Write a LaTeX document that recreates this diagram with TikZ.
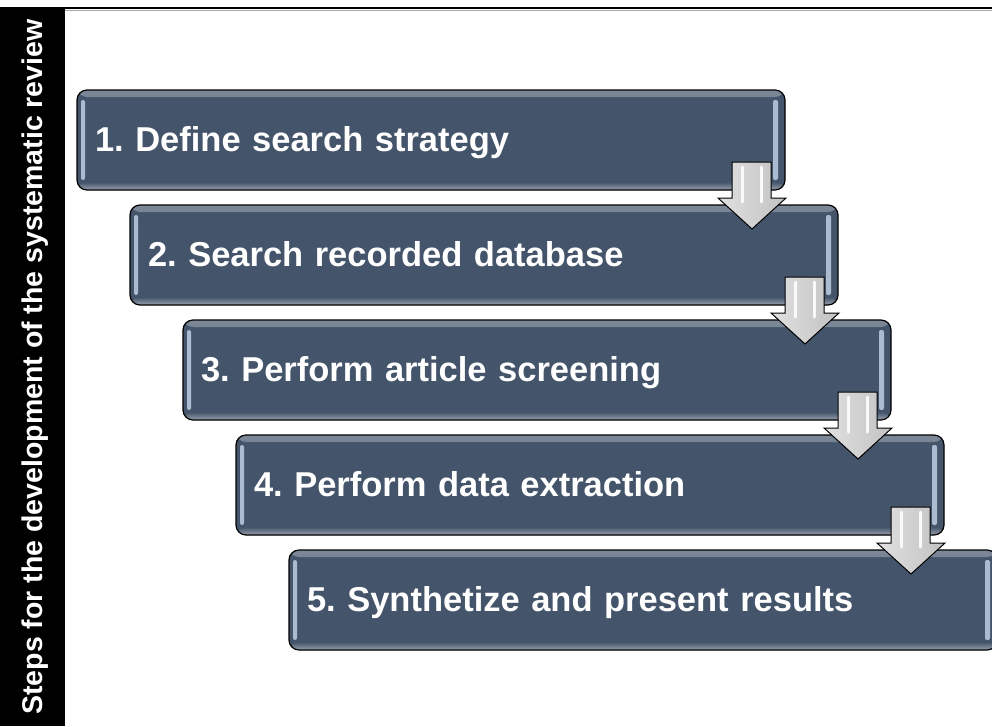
\documentclass[tikz,border=0pt]{standalone}
\usepackage{fontspec}
\setmainfont{Liberation Sans}
\usepackage{tikz}
\usetikzlibrary{positioning,calc}
\definecolor{slate}{RGB}{68,84,106}
\definecolor{glint}{RGB}{172,188,208}
\frenchspacing

\begin{document}
\begin{tikzpicture}[x=1pt, y=-1pt,
  stepbox/.style={draw=black, line width=1.2pt, fill=slate, rounded corners=10pt,
    minimum height=100pt, text width=672pt, inner xsep=18pt, inner ysep=0pt, outer sep=0pt,
    text height=26pt, text depth=4pt, align=left, text=white,
    font=\fontsize{34.5}{40}\selectfont\bfseries,
    path picture={
      \shade[top color=slate!70!white, bottom color=slate] ([shift={(0,0)}]path picture bounding box.north west) rectangle ([shift={(0,7)}]path picture bounding box.north east);
      \shade[top color=slate, bottom color=slate!55!white] ([shift={(0,-8)}]path picture bounding box.south west) rectangle (path picture bounding box.south east);
      \fill[glint, rounded corners=2pt] ([shift={(4,10)}]path picture bounding box.north west) rectangle ([shift={(8,-10)}]path picture bounding box.south west);
      \fill[glint, rounded corners=2pt] ([shift={(-12,10)}]path picture bounding box.north east) rectangle ([shift={(-7,-10)}]path picture bounding box.south east);
    }},
  stepflow/.style={draw=black, line width=1pt, left color=black!12, middle color=white!94!black, right color=black!24},
  shine/.style={white, line width=3pt, line cap=round, opacity=0.9}]
    \useasboundingbox (0,0) rectangle (992,726);
    \fill[black] (0,7) rectangle (65,726);
    \draw[black!35, line width=1pt] (65,10) -- (992,10);
    \draw[black, line width=2.5pt] (65,8) -- (992,8);
    \node[rotate=90, anchor=base, text=white, font=\fontsize{28.5}{32}\selectfont\bfseries] (title) at (42,367) {Steps for the development of the systematic review};

    \node[stepbox, anchor=north west] (b1) at (77,90) {1. Define search strategy};
    \node[stepbox, below=15pt of b1.south west, anchor=north west, xshift=53pt] (b2) {2. Search recorded database};
    \node[stepbox, below=15pt of b2.south west, anchor=north west, xshift=53pt] (b3) {3. Perform article screening};
    \node[stepbox, below=15pt of b3.south west, anchor=north west, xshift=53pt] (b4) {4. Perform data extraction};
    \node[stepbox, below=15pt of b4.south west, anchor=north west, xshift=53pt] (b5) {5. Synthetize and present results};

    \foreach \b in {b1,b2,b3,b4}{
      \draw[stepflow, shift={(\b.south east)}] (-53,-28) -- (-14,-28) -- (-14,8) -- (1,8) -- (-33,39) -- (-67,8) -- (-53,8) -- cycle;
      \draw[shine, shift={(\b.south east)}] (-43,-23) -- (-43,12) (-24,-23) -- (-24,12);
    }
\end{tikzpicture}
\end{document}
